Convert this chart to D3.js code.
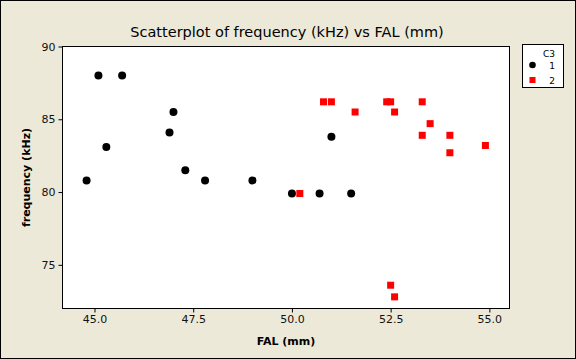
<!DOCTYPE html>
<html><head><meta charset="utf-8">
<script src="https://cdn.jsdelivr.net/npm/d3@7"></script>
<style>body{margin:0;background:#ECE9D8}svg{display:block}</style>
</head><body>
<svg id="c" width="576" height="359"></svg>
<script>
const title = "Scatterplot of frequency (kHz) vs FAL (mm)";
const xLabel = "FAL (mm)";
const yLabel = "frequency (kHz)";
const legendTitle = "C3";
const groups = ["1", "2"];
// group 1 (black circles)
const fal1  = [44.8, 45.1, 45.7, 45.3, 47.0, 46.9, 47.3, 47.8, 49.0, 50.0, 50.7, 51.0, 51.5];
const freq1 = [80.8, 88.0, 88.0, 83.1, 85.5, 84.1, 81.5, 80.8, 80.8, 79.9, 79.9, 83.8, 79.9];
// group 2 (red squares)
const fal2  = [50.2, 50.8, 51.0, 51.6, 52.4, 52.5, 52.6, 53.3, 53.5, 53.3, 54.0, 54.0, 54.9, 52.5, 52.6];
const freq2 = [79.9, 86.2, 86.2, 85.5, 86.2, 86.2, 85.5, 86.2, 84.7, 83.9, 83.9, 82.7, 83.2, 73.6, 72.8];
const xTicks = [45.0, 47.5, 50.0, 52.5, 55.0];
const yTicks = [75, 80, 85, 90];

const svg = d3.select("#c");
const W = 576, H = 359;
const L = 62.5, R = 509.5, T = 46.5, B = 308.5;
const font = "'DejaVu Sans', Verdana, sans-serif";

svg.append("rect").attr("x",0.5).attr("y",0.5).attr("width",W-1).attr("height",H-1)
  .attr("fill","#ECE9D8").attr("stroke","#000");

const x = d3.scaleLinear().domain([44.19, 55.51]).range([L, R]);
const y = d3.scaleLinear().domain([72, 90]).range([B, T]);

svg.append("rect").attr("x",L).attr("y",T).attr("width",R-L).attr("height",B-T)
  .attr("fill","#fff").attr("stroke","#000");

const xa = svg.append("g").attr("transform",`translate(0,${B})`)
  .call(d3.axisBottom(x).tickValues(xTicks).tickFormat(d3.format(".1f")).tickSize(4).tickPadding(3));
const ya = svg.append("g").attr("transform",`translate(${L},0)`)
  .call(d3.axisLeft(y).tickValues(yTicks).tickFormat(d3.format("d")).tickSize(4).tickPadding(3));
[xa, ya].forEach(a => {
  a.select(".domain").remove();
  a.selectAll("line").attr("stroke","#000");
  a.selectAll("text").attr("fill","#111").style("font-family",font).style("font-size","11px");
});

svg.append("text").attr("x",287).attr("y",37).attr("text-anchor","middle")
  .style("font-family",font).style("font-size","14.5px").attr("fill","#000").text(title);
svg.append("text").attr("x",286).attr("y",345).attr("text-anchor","middle")
  .style("font-family",font).style("font-size","11px").style("font-weight","bold").attr("fill","#000").text(xLabel);
svg.append("text").attr("transform",`translate(30,${(T+B)/2}) rotate(-90)`).attr("text-anchor","middle")
  .style("font-family",font).style("font-size","11px").style("font-weight","bold").attr("fill","#000").text(yLabel);

const d1 = fal1.map((v,i)=>({x:v,y:freq1[i]}));
const d2 = fal2.map((v,i)=>({x:v,y:freq2[i]}));
svg.append("g").selectAll("circle").data(d1).join("circle")
  .attr("cx",d=>x(d.x)).attr("cy",d=>y(d.y)).attr("r",4).attr("fill","#000");
svg.append("g").selectAll("rect").data(d2).join("rect")
  .attr("x",d=>x(d.x)-3.5).attr("y",d=>y(d.y)-3.5).attr("width",7).attr("height",7).attr("fill","#f00");

// legend
const lg = svg.append("g");
lg.append("rect").attr("x",522.5).attr("y",44.5).attr("width",41).attr("height",43)
  .attr("fill","#fff").attr("stroke","#000");
lg.append("text").attr("x",555).attr("y",57).attr("text-anchor","end")
  .style("font-family",font).style("font-size","9px").attr("fill","#000").text(legendTitle);
groups.forEach((g,i)=>{
  const yy = 65 + i*15;
  if(i===0) lg.append("circle").attr("cx",532.5).attr("cy",yy).attr("r",3.3).attr("fill","#000");
  else lg.append("rect").attr("x",529.5).attr("y",yy-3).attr("width",6).attr("height",6).attr("fill","#f00");
  lg.append("text").attr("x",555).attr("y",yy+3.5).attr("text-anchor","end")
    .style("font-family",font).style("font-size","9px").attr("fill","#000").text(g);
});
</script>
</body></html>
